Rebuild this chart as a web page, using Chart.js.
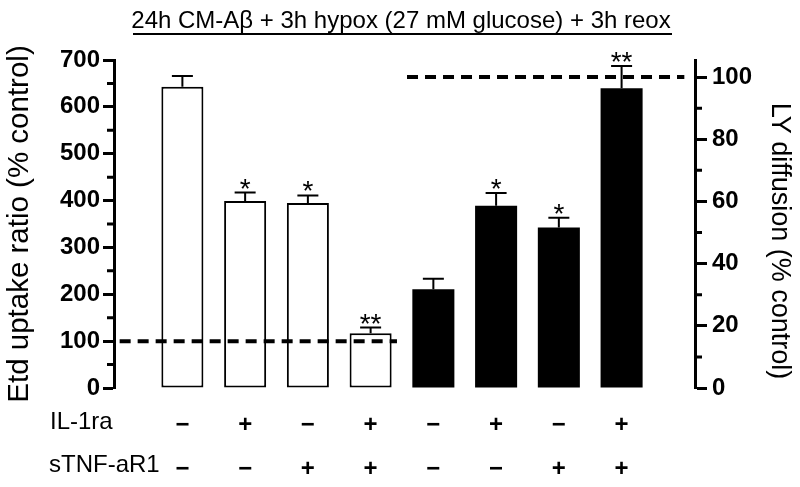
<!DOCTYPE html>
<html>
<head>
<meta charset="utf-8">
<script src="https://cdn.jsdelivr.net/npm/chart.js@4/dist/chart.umd.min.js"></script>
<style>
  body { margin: 0; background: #fff; }
</style>
</head>
<body>
<canvas id="chart" width="800" height="487"></canvas>
<script>
// treatment table under the bars
const il1ra = ['−', '+', '−', '+', '−', '+', '−', '+'];
const stnfR1 = ['−', '−', '+', '+', '−', '−', '+', '+'];

// Etd uptake ratio (% control), left axis, open bars
const etdUptake = [643, 399, 395, 117];
const etdSem = [23, 18, 16, 12];

// LY diffusion (% control), right axis, filled bars
const lyDiffusion = [31.8, 58.6, 51.6, 96.4];
const lySem = [3.3, 4.1, 3.2, 7.2];

const significance = ['', '*', '*', '**', '', '*', '*', '**'];
const controlLevel = 100;

const leftTicks = [0, 100, 200, 300, 400, 500, 600, 700];
const rightTicks = [0, 20, 40, 60, 80, 100];

const black = '#000000';
const white = '#FFFFFF';
const font = 'Liberation Sans, Arial, Helvetica, sans-serif';

Chart.defaults.font.family = font;
Chart.defaults.color = black;

const etdPoints = etdUptake.map((v, i) => ({x: i, y: v}));
const lyPoints = lyDiffusion.map((v, i) => ({x: i + etdUptake.length, y: v}));

const annotations = {
    id: 'annotations',
    afterDatasetsDraw(chart) {
        const ctx = chart.ctx;
        ctx.save();
        ctx.strokeStyle = black;
        ctx.fillStyle = black;
        ctx.lineWidth = 2;
        ctx.font = '28px ' + font;
        ctx.textAlign = 'center';
        ctx.textBaseline = 'alphabetic';
        const sets = [[0, etdUptake, etdSem, chart.scales.yL], [1, lyDiffusion, lySem, chart.scales.yR]];
        sets.forEach(([di, vals, errs, scale]) => {
            chart.getDatasetMeta(di).data.forEach((bar, i) => {
                const top = scale.getPixelForValue(vals[i] + errs[i]);
                ctx.beginPath();
                ctx.moveTo(bar.x, bar.y);
                ctx.lineTo(bar.x, top);
                ctx.moveTo(bar.x - 10.5, top);
                ctx.lineTo(bar.x + 10.5, top);
                ctx.stroke();
                const star = significance[i + di * etdUptake.length];
                if (star) ctx.fillText(star, bar.x, top + 5);
            });
        });
        ctx.restore();
    },
    afterDraw(chart) {
        const ctx = chart.ctx;
        const area = chart.chartArea;
        const yL = chart.scales.yL, yR = chart.scales.yR;
        ctx.save();
        ctx.strokeStyle = black;
        ctx.fillStyle = black;

        // minor ticks
        ctx.lineWidth = 3;
        ctx.beginPath();
        for (let v = 50; v < 700; v += 100) {
            const y = yL.getPixelForValue(v);
            ctx.moveTo(area.left - 7, y);
            ctx.lineTo(area.left, y);
        }
        for (let v = 10; v < 100; v += 20) {
            const y = yR.getPixelForValue(v);
            ctx.moveTo(area.right, y);
            ctx.lineTo(area.right + 7, y);
        }
        ctx.stroke();

        // title with underline
        ctx.font = '24px ' + font;
        ctx.textAlign = 'center';
        ctx.textBaseline = 'alphabetic';
        ctx.fillText('24h CM-Aβ + 3h hypox (27 mM glucose) + 3h reox', 401, 28);
        ctx.lineWidth = 2;
        ctx.beginPath();
        ctx.moveTo(133, 34);
        ctx.lineTo(672, 34);
        ctx.stroke();

        // right axis title
        ctx.save();
        ctx.font = '27px ' + font;
        ctx.translate(779, 241);
        ctx.rotate(Math.PI / 2);
        ctx.textBaseline = 'middle';
        ctx.fillText('LY diffusion (% control)', 0, 0);
        ctx.restore();

        // row headers of the treatment table
        ctx.font = '24px ' + font;
        ctx.textAlign = 'left';
        ctx.fillText('IL-1ra', 50, 429);
        ctx.fillText('sTNF-aR1', 49, 472);
        ctx.restore();
    }
};

new Chart(document.getElementById('chart'), {
    type: 'bar',
    data: {
        datasets: [
            {
                data: etdPoints,
                yAxisID: 'yL',
                backgroundColor: white,
                borderColor: black,
                borderWidth: 2,
                borderSkipped: false,
                order: 1
            },
            {
                data: lyPoints,
                yAxisID: 'yR',
                backgroundColor: black,
                borderColor: black,
                borderWidth: 0,
                order: 1
            },
            {
                type: 'line',
                data: [{x: -1, y: controlLevel}, {x: 3.42, y: controlLevel}],
                yAxisID: 'yL',
                borderColor: black,
                borderWidth: 4,
                borderDash: [11, 7],
                pointRadius: 0,
                order: 0
            },
            {
                type: 'line',
                data: [{x: 3.58, y: controlLevel}, {x: 8, y: controlLevel}],
                yAxisID: 'yR',
                borderColor: black,
                borderWidth: 4,
                borderDash: [11, 7],
                pointRadius: 0,
                order: 0
            }
        ]
    },
    options: {
        responsive: false,
        animation: false,
        devicePixelRatio: 1,
        grouped: false,
        barPercentage: 0.67,
        categoryPercentage: 1,
        layout: {padding: {top: 60, left: 0, right: 0, bottom: 0}},
        plugins: {legend: {display: false}, tooltip: {enabled: false}},
        scales: {
            x: {
                type: 'linear',
                offset: false,
                min: -1.09,
                max: 8.17,
                grid: {display: false, offset: false},
                border: {display: false},
                ticks: {
                    stepSize: 1,
                    autoSkip: false,
                    maxRotation: 0,
                    padding: 7,
                    font: {size: 24, weight: 'bold', lineHeight: 1.833},
                    callback: (v) => (Number.isInteger(v) && v >= 0 && v < il1ra.length) ? [il1ra[v], stnfR1[v]] : ''
                },
                afterFit: (s) => { s.height = 99; }
            },
            yL: {
                position: 'left',
                min: 0,
                max: 700,
                afterBuildTicks: (s) => { s.ticks = leftTicks.map(v => ({value: v})); },
                grid: {drawOnChartArea: false, color: black, tickLength: 11, tickWidth: 3},
                border: {color: black, width: 3},
                ticks: {padding: 3, font: {size: 24, weight: 'bold'}},
                title: {
                    display: true,
                    text: 'Etd uptake ratio (% control)',
                    font: {size: 29.5},
                    padding: {top: 2, bottom: 0}
                },
                afterFit: (s) => { s.width = 114; }
            },
            yR: {
                position: 'right',
                min: 0,
                max: 105.5,
                afterBuildTicks: (s) => { s.ticks = rightTicks.map(v => ({value: v})); },
                grid: {drawOnChartArea: false, color: black, tickLength: 12, tickWidth: 3},
                border: {color: black, width: 3},
                ticks: {padding: 5, font: {size: 24, weight: 'bold'}},
                afterFit: (s) => { s.width = 105; }
            }
        }
    },
    plugins: [annotations]
});
</script>
</body>
</html>
